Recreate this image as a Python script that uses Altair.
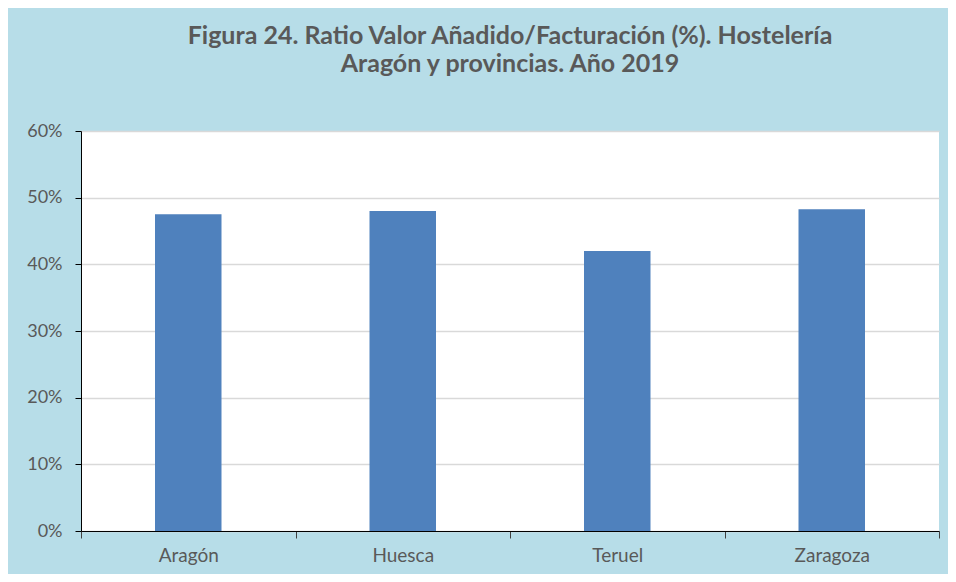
import altair as alt
import pandas as pd

categories = ["Aragón", "Huesca", "Teruel", "Zaragoza"]
ratios = [0.475, 0.480, 0.420, 0.4825]
title_lines = ["Figura 24. Ratio Valor Añadido/Facturación (%). Hostelería",
               "Aragón y provincias. Año 2019"]

df = pd.DataFrame({"region": categories, "ratio": ratios})

FONT = "Lato"
GREY = "#595959"

chart = alt.Chart(df).mark_bar(
    color="#4f81bd", width=alt.RelativeBandSize(0.31)
).encode(
    x=alt.X("region:N", sort=categories, title=None,
            scale=alt.Scale(paddingInner=0, paddingOuter=0),
            axis=alt.Axis(labelAngle=0, tickBand="extent", domainColor="black",
                          tickColor="#404040", tickSize=7, labelPadding=8,
                          labelFont=FONT, labelFontSize=19, labelColor=GREY,
                          grid=False)),
    y=alt.Y("ratio:Q", title=None,
            scale=alt.Scale(domain=[0, 0.6], nice=False),
            axis=alt.Axis(format=".0%", values=[0, 0.1, 0.2, 0.3, 0.4, 0.5, 0.6],
                          domainColor="black", tickColor="black", tickSize=6,
                          labelPadding=13, labelFont=FONT, labelFontSize=18,
                          labelColor=GREY, gridColor="#d9d9d9", gridWidth=1.5)),
).properties(
    width=858, height=400,
    autosize=alt.AutoSizeParams(type="none"),
    padding={"left": 73, "top": 123, "right": 9, "bottom": 43},
    background="#b7dde8",
    title=alt.TitleParams(text=title_lines, font=FONT, fontSize=25,
                          fontWeight="bold", color=GREY, lineHeight=28,
                          anchor="middle", offset=45),
).configure_view(fill="white", stroke=None)

chart.save("out.html", embed_options={"renderer": "svg", "actions": False})
